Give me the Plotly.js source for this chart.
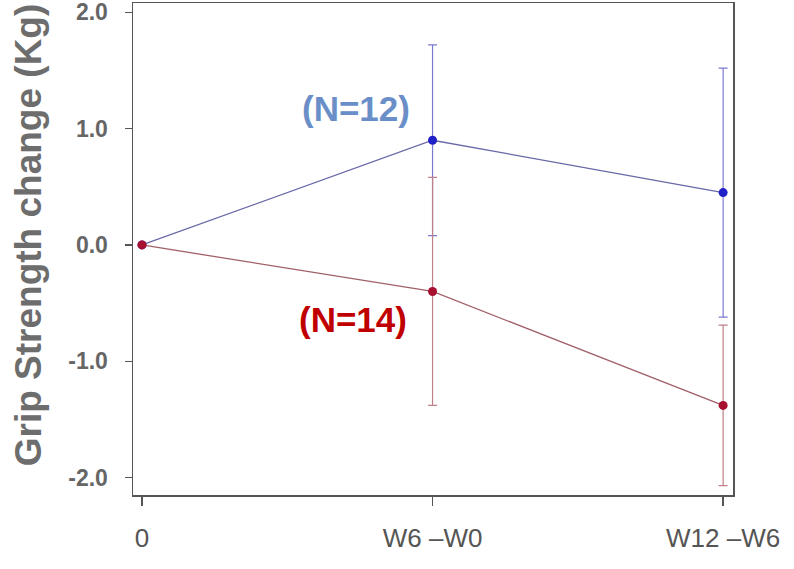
<!DOCTYPE html>
<html><head><meta charset="utf-8">
<script src="https://cdn.plot.ly/plotly-3.0.1.min.js"></script>
<style>html,body{margin:0;padding:0;background:#fff}#chart{width:794px;height:569px}</style>
</head><body><div id="chart"></div>
<script>
const categories = ["0", "W6 \u2013W0", "W12 \u2013W6"];
const blueValues = [0, 0.90, 0.45];
const blueErrors = [0, 0.82, 1.07];
const redValues = [0, -0.40, -1.38];
const redErrors = [0, 0.98, 0.69];
const yTickVals = [-2, -1, 0, 1, 2];
const yTickText = ["-2.0", "-1.0", "0.0", "1.0", "2.0"];
const yTitle = "Grip Strength change (Kg)";
const xIdx = categories.map((c, i) => i);

const traces = [
  {x: xIdx, y: blueValues, type: "scatter", mode: "lines+markers",
   line: {color: "#6868a8", width: 1.3},
   marker: {color: "#2020c8", size: 9},
   error_y: {type: "data", array: blueErrors, visible: true, color: "#7a7ad0", thickness: 1.2, width: 4.5},
   cliponaxis: false},
  {x: xIdx, y: redValues, type: "scatter", mode: "lines+markers",
   line: {color: "#a06068", width: 1.3},
   marker: {color: "#a81030", size: 9},
   error_y: {type: "data", array: redErrors, visible: true, color: "#c08088", thickness: 1.2, width: 4.5},
   cliponaxis: false}
];

const layout = {
  width: 794, height: 569,
  margin: {l: 133, r: 61, t: 3, b: 74},
  paper_bgcolor: "#fff", plot_bgcolor: "#fff",
  showlegend: false,
  font: {family: "Liberation Sans, Arial, sans-serif", color: "#666"},
  xaxis: {
    range: [-0.031, 2.034], tickvals: xIdx, ticktext: categories,
    showgrid: false, zeroline: false,
    showline: true, mirror: true, linecolor: "#555", linewidth: 1.5,
    ticks: "outside", ticklen: 9, tickcolor: "#555", tickwidth: 1.3,
    tickfont: {size: 26, color: "#555"},
    ticklabelstandoff: 10
  },
  yaxis: {
    range: [-2.15, 2.08], tickvals: yTickVals, ticktext: yTickText,
    showgrid: false, zeroline: false,
    showline: true, mirror: true, linecolor: "#555", linewidth: 1.5,
    ticks: "outside", ticklen: 7, tickcolor: "#555", tickwidth: 1.3,
    tickfont: {size: 23, color: "#666", weight: "bold"},
    ticklabelstandoff: 12,
    ticklabeloverflow: "allow"
  },
  annotations: [
    {x: -0.175, y: 0.528, xref: "paper", yref: "paper", text: yTitle, showarrow: false,
     textangle: -90, xanchor: "center", yanchor: "middle",
     font: {size: 37, color: "#6d6d6d", weight: "bold"}},
    {x: 0.735, y: 1.17, xref: "x", yref: "y", text: "(N=12)", showarrow: false,
     font: {size: 35, color: "#6a8fc8", weight: "bold"}},
    {x: 0.725, y: -0.645, xref: "x", yref: "y", text: "(N=14)", showarrow: false,
     font: {size: 35, color: "#c00000", weight: "bold"}}
  ]
};

Plotly.newPlot("chart", traces, layout, {displayModeBar: false, staticPlot: true});
</script>
</body></html>
